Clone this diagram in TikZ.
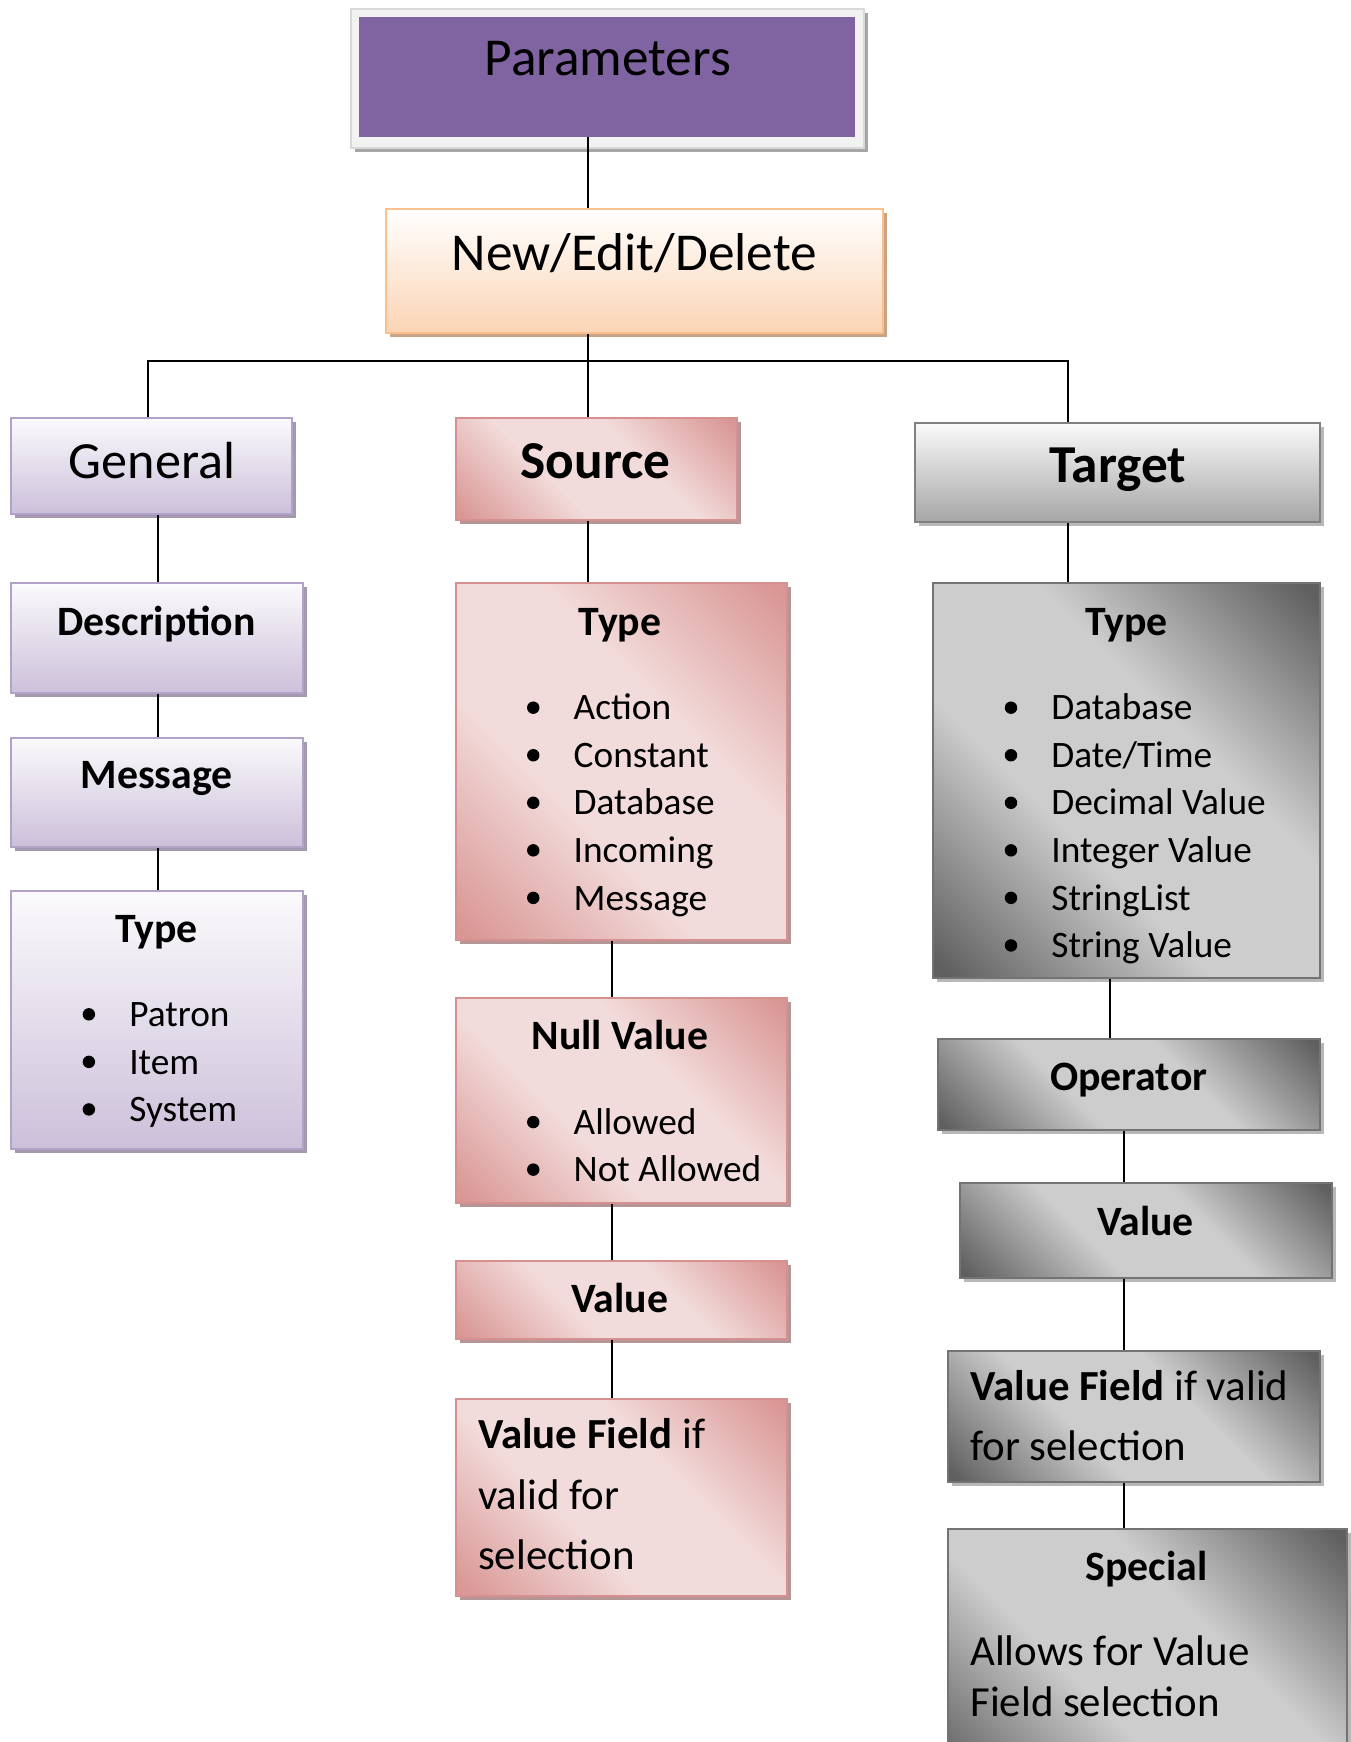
\documentclass[tikz,border=0pt]{standalone}
\usepackage{fontspec}
\setmainfont{Carlito}
\usepackage{tikz}
\usetikzlibrary{positioning,fit,shadows}

\definecolor{paramPurple}{HTML}{8064A2}
\definecolor{paramFrame}{HTML}{F2F2F2}
\definecolor{peachEdge}{HTML}{FAC090}
\definecolor{peachFill}{HTML}{FBD4B4}
\definecolor{peachShadow}{HTML}{C9A383}
\definecolor{lilacEdge}{HTML}{B3A2C7}
\definecolor{lilacFill}{HTML}{CCC0DA}
\definecolor{lilacShadow}{HTML}{A498AF}
\definecolor{roseEdge}{HTML}{D6908F}
\definecolor{roseDark}{HTML}{D99694}
\definecolor{roseLight}{HTML}{F2DCDB}
\definecolor{roseShadow}{HTML}{B59596}
\definecolor{greyEdge}{HTML}{737373}
\definecolor{greyDark}{HTML}{5F5F5F}
\definecolor{greyLight}{HTML}{CDCDCD}
\definecolor{greyShadow}{HTML}{B8B8B8}

\pgfdeclarehorizontalshading{rosediag}{100bp}{color(0bp)=(roseDark); color(16bp)=(roseDark); color(40bp)=(roseLight); color(60bp)=(roseLight); color(84bp)=(roseDark); color(100bp)=(roseDark)}
\pgfdeclarehorizontalshading{greydiag}{100bp}{color(0bp)=(greyDark); color(16bp)=(greyDark); color(40bp)=(greyLight); color(60bp)=(greyLight); color(84bp)=(greyDark); color(100bp)=(greyDark)}

\begin{document}
\begin{tikzpicture}[x=0.5pt, y=-0.5pt,
  box/.style={draw, line width=0.9pt, inner sep=0pt},
  lilacbox/.style={box, draw=lilacEdge, top color=white!60!lilacFill!20, bottom color=lilacFill,
    drop shadow={shadow xshift=1.8pt, shadow yshift=-1.8pt, fill=lilacShadow, opacity=1}},
  rosebox/.style={box, draw=roseEdge, shading=rosediag, shading angle=45,
    drop shadow={shadow xshift=1.8pt, shadow yshift=-1.8pt, fill=roseShadow, opacity=1}},
  greybox/.style={box, draw=greyEdge, shading=greydiag, shading angle=45,
    drop shadow={shadow xshift=1.8pt, shadow yshift=-1.8pt, fill=greyShadow, opacity=1}},
  headbox/.style={box, draw=greyEdge!90, top color=white!98!black, bottom color=black!35,
    drop shadow={shadow xshift=1.8pt, shadow yshift=-1.8pt, fill=greyShadow, opacity=1}},
  peachbox/.style={box, draw=peachEdge, top color=white, bottom color=peachFill,
    drop shadow={shadow xshift=1.8pt, shadow yshift=-1.8pt, fill=peachShadow, opacity=1}},
  bigtext/.style={font=\fontsize{24}{28}\selectfont, inner sep=0pt, text height=2.8ex, text depth=0pt},
  title/.style={font=\fontsize{18.8}{22}\selectfont\bfseries, inner sep=0pt, text height=2.45ex, text depth=0pt},
  item/.style={font=\fontsize{16.8}{19}\selectfont, anchor=west, inner sep=0pt, text height=2.3ex, text depth=0pt},
  fieldtext/.style={font=\fontsize{19.3}{23}\selectfont, anchor=west, inner sep=0pt, text height=2.3ex, text depth=0pt},
  link/.style={draw, line width=0.8pt}]

\fill[white] (0,0) rectangle (1216,1568);
\useasboundingbox (0,0) rectangle (1216,1568);

% Kopf
\node[box, fill=paramFrame, draw=black!15, fit={(316,8) (778,133)},
  drop shadow={shadow xshift=1.8pt, shadow yshift=-1.8pt, fill=black!35, opacity=1}] (paramFrame) {};
\node[inner sep=0pt, fill=paramPurple, fit={(323,15) (770,123)}] (params) {};
\node[peachbox, fit={(347,188) (795,300)}] (ned) {};

% linke Spalte
\node[lilacbox, fit={(10,376) (263,463)}] (general) {};
\node[lilacbox, fit={(10,525) (273,624)}] (descr) {};
\node[lilacbox, fit={(10,664) (273,762)}] (message) {};
\node[lilacbox, fit={(10,802) (273,1034)}] (genType) {};

% mittlere Spalte
\node[rosebox, fit={(410,376) (663,468)}] (source) {};
\node[rosebox, fit={(410,525) (708,846)}] (srcType) {};
\node[rosebox, fit={(410,898) (708,1083)}] (nullVal) {};
\node[rosebox, fit={(410,1135) (708,1205)}] (srcValue) {};
\node[rosebox, fit={(410,1259) (708,1437)}] (srcField) {};

% rechte Spalte
\node[headbox, fit={(824,381) (1188,470)}] (target) {};
\node[greybox, fit={(840,525) (1188,880)}] (tgtType) {};
\node[greybox, fit={(844,935) (1188,1017)}] (operator) {};
\node[greybox, fit={(864,1065) (1199,1150)}] (tgtValue) {};
\node[greybox, fit={(853,1216) (1188,1334)}] (tgtField) {};
\node[greybox, fit={(853,1376) (1212,1610)}] (special) {};

% Verbindungen
\coordinate (busL) at (133,325);
\coordinate (busR) at (961,325);
\draw[link] (params.south -| 529,0) -- (ned.north -| 529,0);
\draw[link] (ned.south -| 529,0) -- (source.north -| 529,0);
\draw[link] (general.north -| busL) -- (busL) -- (busR) -- (target.north -| busR);
\draw[link] (general.south -| 142,0) -- (descr.north -| 142,0);
\draw[link] (descr.south -| 142,0) -- (message.north -| 142,0);
\draw[link] (message.south -| 142,0) -- (genType.north -| 142,0);
\draw[link] (source.south -| 529,0) -- (srcType.north -| 529,0);
\draw[link] (srcType.south -| 551,0) -- (nullVal.north -| 551,0);
\draw[link] (nullVal.south -| 551,0) -- (srcValue.north -| 551,0);
\draw[link] (srcValue.south -| 551,0) -- (srcField.north -| 551,0);
\draw[link] (target.south -| busR) -- (tgtType.north -| busR);
\draw[link] (tgtType.south -| 999,0) -- (operator.north -| 999,0);
\draw[link] (operator.south -| 1012,0) -- (tgtValue.north -| 1012,0);
\draw[link] (tgtValue.south -| 1012,0) -- (tgtField.north -| 1012,0);
\draw[link] (tgtField.south -| 1012,0) -- (special.north -| 1012,0);

% Texte
\node[bigtext] (paramsText) at (547,55) {Parameters};
\node[bigtext] (nedText) at (571,230) {New/Edit/Delete};
\node[bigtext, font=\fontsize{23.5}{28}\selectfont] (generalText) at (137,417) {General};
\node[bigtext, font=\fontsize{24}{28}\selectfont\bfseries] (sourceText) at (536,417) {Source};
\node[bigtext, font=\fontsize{24}{28}\selectfont\bfseries] (targetText) at (1006,421) {Target};

\node[title] (descrText) at (141,560) {Description};
\node[title] (messageText) at (141,698) {Message};
\node[title] (genTypeText) at (141,837) {Type};
\node[title] (srcTypeText) at (558,560) {Type};
\node[title] (nullText) at (558,933) {Null Value};
\node[title] (srcValueText) at (558,1170) {Value};
\node[title] (tgtTypeText) at (1014,560) {Type};
\node[title] (operatorText) at (1016,970) {Operator};
\node[title] (tgtValueText) at (1031,1100) {Value};
\node[title] (specialText) at (1032,1411) {Special};

% Aufzaehlungen
\foreach \entry [count=\i from 0] in {Patron,Item,System} {
  \fill (80,{913+42.8*\i}) circle[radius=2.8pt];
  \node[item] (genItem\i) at (116,{913+42.8*\i}) {\entry};
}
\foreach \entry [count=\i from 0] in {Action,Constant,Database,Incoming,Message} {
  \fill (480,{637+42.8*\i}) circle[radius=2.8pt];
  \node[item] (srcItem\i) at (516,{637+42.8*\i}) {\entry};
}
\foreach \entry [count=\i from 0] in {Allowed,Not Allowed} {
  \fill (480,{1010+42.8*\i}) circle[radius=2.8pt];
  \node[item] (nullItem\i) at (516,{1010+42.8*\i}) {\entry};
}
\foreach \entry [count=\i from 0] in {Database,Date/Time,Decimal Value,Integer Value,StringList,String Value} {
  \fill (910,{637+42.8*\i}) circle[radius=2.8pt];
  \node[item] (tgtItem\i) at (946,{637+42.8*\i}) {\entry};
}

\node[fieldtext] (srcFieldA) at (430,1293) {\textbf{Value Field} if};
\node[fieldtext] (srcFieldB) at (430,1348) {valid for};
\node[fieldtext] (srcFieldC) at (430,1402) {selection};
\node[fieldtext] (tgtFieldA) at (873,1250) {\textbf{Value Field} if valid};
\node[fieldtext] (tgtFieldB) at (873,1304) {for selection};
\node[fieldtext] (specialA) at (873,1488) {Allows for Value};
\node[fieldtext] (specialB) at (873,1534) {Field selection};

\end{tikzpicture}
\end{document}
